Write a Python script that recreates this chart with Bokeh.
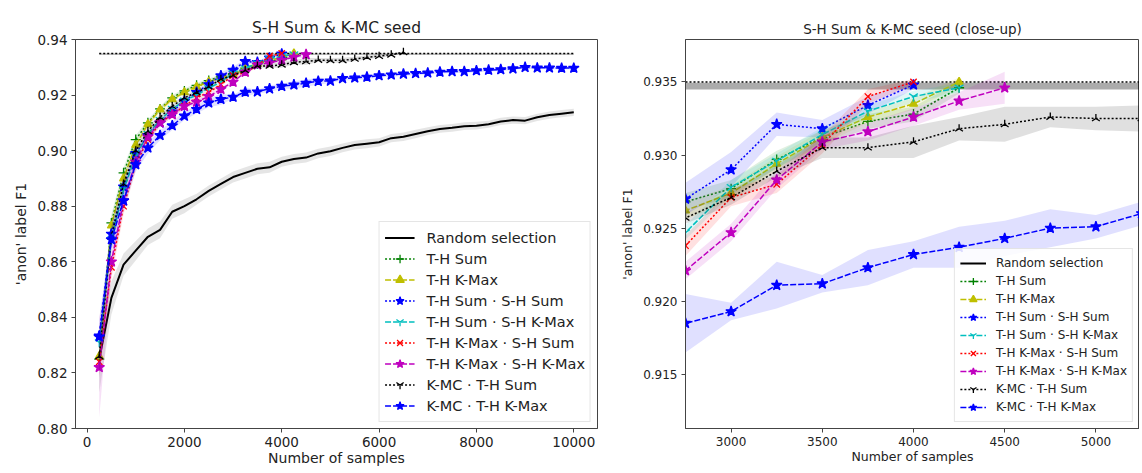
from bokeh.plotting import figure
from bokeh.models import Legend, LegendItem, FixedTicker, NumeralTickFormatter, Range1d
from bokeh.layouts import row
from bokeh.embed import file_html
from bokeh.resources import INLINE
import numpy as np

# ---------------- data ----------------
samples = list(range(250, 10001, 250))

ref_f1 = 0.935
ref_low = 0.93448
ref_high = 0.93495

random_sel = [0.825, 0.847, 0.859, 0.864, 0.869, 0.8715, 0.878, 0.880, 0.8825, 0.8855,
              0.888, 0.8905, 0.892, 0.8935, 0.8940, 0.8960, 0.8970, 0.8975, 0.8990, 0.8998,
              0.9010, 0.9020, 0.9025, 0.9030, 0.9045, 0.9050, 0.9060, 0.9070, 0.9078, 0.9082,
              0.9088, 0.9090, 0.9095, 0.9105, 0.9110, 0.9108, 0.9120, 0.9128, 0.9133, 0.9138]
random_sd = [0.012, 0.006, 0.004, 0.0035, 0.003, 0.003, 0.0025, 0.0025, 0.002, 0.002,
             0.002, 0.002, 0.002, 0.002, 0.002, 0.0018, 0.0018, 0.0018, 0.0017, 0.0017,
             0.0016, 0.0016, 0.0016, 0.0015, 0.0015, 0.0015, 0.0015, 0.0014, 0.0014, 0.0014,
             0.0014, 0.0014, 0.0013, 0.0013, 0.0013, 0.0013, 0.0013, 0.0013, 0.0013, 0.0013]

th_sum = [0.825, 0.874, 0.892, 0.904, 0.910, 0.915, 0.919, 0.9215, 0.9235, 0.9252,
          0.9268, 0.9277, 0.9297, 0.9312, 0.9323, 0.9328, 0.9346]
th_sum_sd = [0.004, 0.003, 0.002, 0.0015, 0.0012, 0.001, 0.001, 0.0009, 0.0008, 0.0008,
             0.0006, 0.0006, 0.0006, 0.0005, 0.0005, 0.0005, 0.0004]

th_kmax = [0.826, 0.873, 0.890, 0.902, 0.9095, 0.9148, 0.9185, 0.9210, 0.9230, 0.9248,
           0.9262, 0.9274, 0.9294, 0.9312, 0.9326, 0.9335, 0.9350]
th_kmax_sd = [0.004, 0.003, 0.002, 0.0015, 0.0012, 0.001, 0.001, 0.0008, 0.0008, 0.0007,
              0.0006, 0.0005, 0.0005, 0.0005, 0.0004, 0.0004, 0.0003]

thsum_shsum = [0.8333, 0.870, 0.887, 0.899, 0.9055, 0.910, 0.914, 0.9178, 0.9210, 0.9238,
               0.9270, 0.9290, 0.9321, 0.9318, 0.9334, 0.9348]
thsum_shsum_sd = [0.003, 0.003, 0.002, 0.0015, 0.0012, 0.001, 0.001, 0.0009, 0.0009, 0.0009,
                  0.0011, 0.0012, 0.0008, 0.0006, 0.0006, 0.0003]

thsum_shkmax = [0.831, 0.868, 0.886, 0.898, 0.906, 0.911, 0.915, 0.918, 0.920, 0.9225,
                0.9247, 0.9278, 0.9296, 0.9314, 0.9330, 0.9340, 0.9346]
thsum_shkmax_sd = [0.003, 0.003, 0.002, 0.0015, 0.0012, 0.001, 0.0009, 0.0008, 0.0007, 0.0006,
                   0.0005, 0.0005, 0.0005, 0.0005, 0.0004, 0.0004, 0.0003]

thkmax_shsum = [0.824, 0.858, 0.880, 0.895, 0.904, 0.910, 0.913, 0.916, 0.919, 0.921,
                0.9238, 0.9271, 0.9280, 0.9307, 0.9340, 0.9350]
thkmax_shsum_sd = [0.005, 0.004, 0.003, 0.002, 0.0015, 0.0012, 0.001, 0.0009, 0.0008, 0.0008,
                   0.0007, 0.0006, 0.0006, 0.0006, 0.0005, 0.0002]

thkmax_shkmax = [0.822, 0.860, 0.882, 0.896, 0.905, 0.910, 0.913, 0.916, 0.9175, 0.9195,
                 0.9221, 0.9247, 0.9283, 0.9309, 0.9316, 0.9326, 0.9337, 0.9346]
thkmax_shkmax_sd = [0.018, 0.005, 0.003, 0.002, 0.0015, 0.0012, 0.001, 0.0009, 0.0008, 0.0008,
                    0.0006, 0.0006, 0.0006, 0.0005, 0.0006, 0.0006, 0.0006, 0.0011]

kmc_thsum = [0.826, 0.869, 0.888, 0.900, 0.907, 0.912, 0.916, 0.919, 0.921, 0.923,
             0.9257, 0.9271, 0.9289, 0.9305, 0.9305, 0.9309, 0.9318, 0.9321, 0.9326, 0.9325,
             0.9325, 0.9330, 0.9336, 0.9340, 0.9345, 0.9354]
kmc_thsum_sd = [0.008, 0.004, 0.003, 0.002, 0.0015, 0.0012, 0.001, 0.0009, 0.0008, 0.0008,
                0.0004, 0.0005, 0.0004, 0.0007, 0.0007, 0.0011, 0.0008, 0.0012, 0.0007, 0.0008,
                0.0009, 0.0008, 0.0007, 0.0006, 0.0005, 0.0003]

kmc_thkmax = [0.833, 0.868, 0.882, 0.895, 0.901, 0.9055, 0.909, 0.9125, 0.9149, 0.9172,
              0.9185, 0.9193, 0.9211, 0.9212, 0.9223, 0.9232, 0.9237, 0.9243, 0.9250, 0.9251,
              0.9260, 0.9262, 0.9265, 0.9270, 0.9273, 0.9276, 0.9278, 0.9280, 0.9283, 0.9285,
              0.9285, 0.9288, 0.9290, 0.9292, 0.9295, 0.9300, 0.9298, 0.9298, 0.9297, 0.9297]
kmc_thkmax_sd = [0.006, 0.004, 0.003, 0.0025, 0.002, 0.0018, 0.0016, 0.0015, 0.0015, 0.0016,
                 0.002, 0.0006, 0.0016, 0.0006, 0.0012, 0.0009, 0.0014, 0.0012, 0.0013, 0.0008,
                 0.0008, 0.0008, 0.0008, 0.0007, 0.0007, 0.0007, 0.0006, 0.0006, 0.0006, 0.0006,
                 0.0006, 0.0006, 0.0005, 0.0005, 0.0005, 0.0005, 0.0005, 0.0005, 0.0005, 0.0005]

labels = ["T-H Sum", "T-H K-Max", "T-H Sum \u00b7 S-H Sum", "T-H Sum \u00b7 S-H K-Max",
          "T-H K-Max \u00b7 S-H Sum", "T-H K-Max \u00b7 S-H K-Max", "K-MC \u00b7 T-H Sum",
          "K-MC \u00b7 T-H K-Max"]
values = [th_sum, th_kmax, thsum_shsum, thsum_shkmax, thkmax_shsum, thkmax_shkmax,
          kmc_thsum, kmc_thkmax]
spreads = [th_sum_sd, th_kmax_sd, thsum_shsum_sd, thsum_shkmax_sd, thkmax_shsum_sd,
           thkmax_shkmax_sd, kmc_thsum_sd, kmc_thkmax_sd]

# ---------------- styles ----------------
colors = ["#008000", "#bfbf00", "#0000ff", "#00bfbf", "#ff0000", "#bf00bf", "#000000", "#0000ff"]
DOT = "2 2"
DASH = "6 2"
dashes = [DOT, DASH, DOT, DASH, DOT, DASH, DOT, DASH]
markers = ["cross", "triangle", "star", "y", "x", "star", "y", "star"]
m_angles = [0, 0, 0, 0, 0, 0, np.pi, 0]
m_sizes = [10, 8, 11, 10, 9, 11, 9, 11]
m_filled = [False, True, True, False, False, True, False, True]

FONT = "DejaVu Sans"
TXT = "#222222"
SPINE = "#444444"


def style_axes(p, tick_size, label_size, x_lab_off, y_lab_off):
    for ax in (p.xaxis[0], p.yaxis[0]):
        ax.axis_line_color = SPINE
        ax.major_tick_line_color = SPINE
        ax.minor_tick_line_color = None
        ax.major_tick_out = 4
        ax.major_tick_in = 0
        ax.major_label_text_font = FONT
        ax.major_label_text_font_size = tick_size
        ax.major_label_text_color = TXT
        ax.axis_label_text_font = FONT
        ax.axis_label_text_font_size = label_size
        ax.axis_label_text_font_style = "normal"
        ax.axis_label_text_color = TXT
    p.xaxis[0].major_label_standoff = 4
    p.xaxis[0].axis_label_standoff = x_lab_off
    p.yaxis[0].major_label_standoff = 4
    p.yaxis[0].axis_label_standoff = y_lab_off
    p.xgrid.visible = False
    p.ygrid.visible = False
    p.outline_line_color = SPINE
    p.outline_line_width = 1


def draw(p, legend_font, item_h, glyph_w, standoff):
    n = len(samples)
    lo = [ref_low] * n
    hi = [ref_high] * n
    p.varea(x=samples, y1=lo, y2=hi, fill_color="#000000", fill_alpha=0.33)
    p.line(samples, [ref_f1] * n, line_color="#000000", line_width=1.5, line_dash=DOT)

    items = []
    r_lo = [v - s for v, s in zip(random_sel, random_sd)]
    r_hi = [v + s for v, s in zip(random_sel, random_sd)]
    p.varea(x=samples, y1=r_lo, y2=r_hi, fill_color="#000000", fill_alpha=0.1)
    rl = p.line(samples, random_sel, line_color="#000000", line_width=2)
    items.append(LegendItem(label="Random selection", renderers=[rl]))

    for lab, ys, sd, c, d, mk, ang, ms, fl in zip(labels, values, spreads, colors, dashes,
                                                   markers, m_angles, m_sizes, m_filled):
        xs = samples[:len(ys)]
        y1 = [v - s for v, s in zip(ys, sd)]
        y2 = [v + s for v, s in zip(ys, sd)]
        p.varea(x=xs, y1=y1, y2=y2, fill_color=c, fill_alpha=0.12)
        ln = p.line(xs, ys, line_color=c, line_width=1.5, line_dash=d)
        sc = p.scatter(xs, ys, marker=mk, size=ms, angle=ang, line_color=c, line_width=1.3,
                       fill_color=c if fl else None, fill_alpha=1.0)
        items.append(LegendItem(label=lab, renderers=[ln, sc]))

    leg = Legend(items=items, location="bottom_right")
    leg.label_text_font = FONT
    leg.label_text_font_size = legend_font
    leg.label_text_color = TXT
    leg.label_height = item_h
    leg.glyph_height = item_h
    leg.glyph_width = glyph_w
    leg.spacing = 0
    leg.padding = 5
    leg.margin = 6
    leg.label_standoff = standoff
    leg.border_line_color = "#cccccc"
    leg.border_line_width = 1
    leg.background_fill_alpha = 0.85
    p.add_layout(leg)


# ---------------- left figure ----------------
p1 = figure(width=617, height=471, output_backend="svg", toolbar_location=None,
            x_range=Range1d(-237.5, 10487.5), y_range=Range1d(0.80, 0.94),
            min_border_left=75, min_border_right=20, min_border_top=38, min_border_bottom=43,
            x_axis_label="Number of samples", y_axis_label="'anon' label F1")
p1.title.text = "S-H Sum & K-MC seed"
p1.title.align = "center"
p1.title.text_font = FONT
p1.title.text_font_size = "15.5px"
p1.title.text_font_style = "normal"
p1.title.text_color = TXT
p1.title.standoff = 5
style_axes(p1, "13.5px", "14px", 0, 5)
p1.xaxis[0].ticker = FixedTicker(ticks=[0, 2000, 4000, 6000, 8000, 10000])
p1.xaxis[0].formatter = NumeralTickFormatter(format="0")
p1.yaxis[0].ticker = FixedTicker(ticks=[0.80, 0.82, 0.84, 0.86, 0.88, 0.90, 0.92, 0.94])
p1.yaxis[0].formatter = NumeralTickFormatter(format="0.00")
draw(p1, "14.5px", 21, 30, 12)

# ---------------- right figure ----------------
p2 = figure(width=522, height=471, output_backend="svg", toolbar_location=None,
            x_range=Range1d(2750, 5239), y_range=Range1d(0.9113, 0.9379),
            min_border_left=64, min_border_right=0, min_border_top=39, min_border_bottom=37,
            x_axis_label="Number of samples", y_axis_label="'anon' label F1")
p2.title.text = "S-H Sum & K-MC seed (close-up)"
p2.title.align = "center"
p2.title.text_font = FONT
p2.title.text_font_size = "13.5px"
p2.title.text_font_style = "normal"
p2.title.text_color = TXT
p2.title.standoff = 5
style_axes(p2, "12px", "12.5px", 0, 5)
p2.xaxis[0].ticker = FixedTicker(ticks=[3000, 3500, 4000, 4500, 5000])
p2.xaxis[0].formatter = NumeralTickFormatter(format="0")
p2.yaxis[0].ticker = FixedTicker(ticks=[0.915, 0.920, 0.925, 0.930, 0.935])
p2.yaxis[0].formatter = NumeralTickFormatter(format="0.000")
draw(p2, "12px", 18, 26, 10)

layout = row(p1, p2)
open("out.html", "w").write(file_html(layout, INLINE))
